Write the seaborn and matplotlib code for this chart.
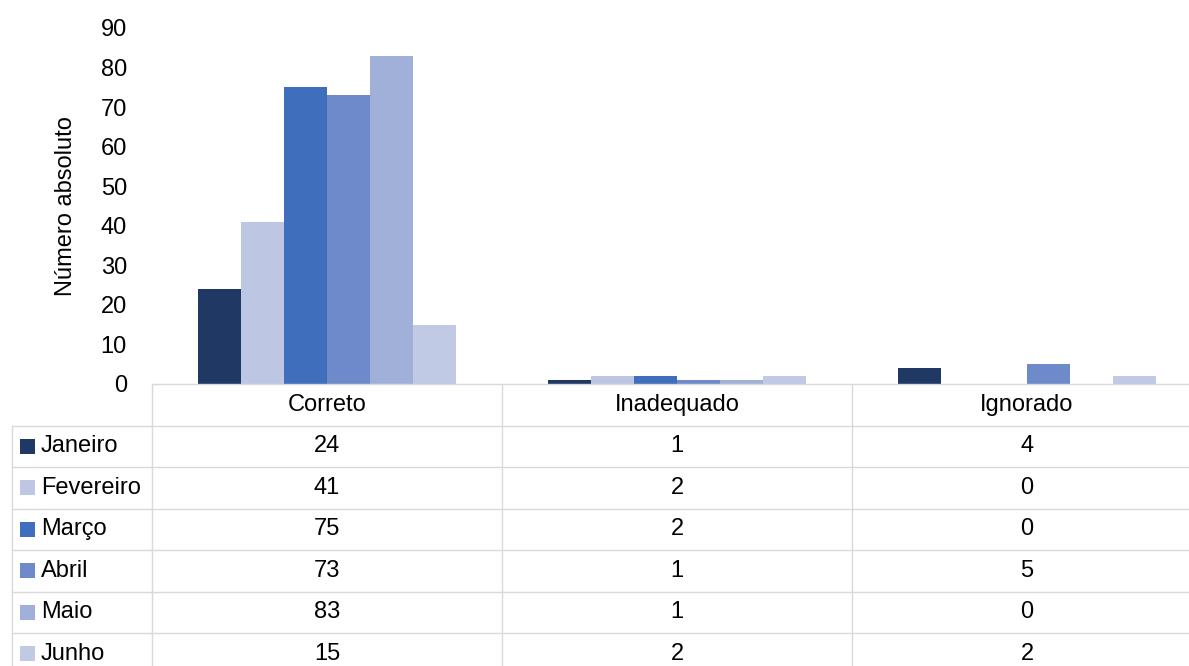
import matplotlib

matplotlib.use("Agg")

import matplotlib.pyplot as plt
import matplotlib.transforms as mtransforms
import pandas as pd
import seaborn as sns
from matplotlib.patches import Rectangle


CATEGORIES = ["Correto", "Inadequado", "Ignorado"]
MONTHS = ["Janeiro", "Fevereiro", "Março", "Abril", "Maio", "Junho"]
VALUES = {
    "Janeiro": [24, 1, 4],
    "Fevereiro": [41, 2, 0],
    "Março": [75, 2, 0],
    "Abril": [73, 1, 5],
    "Maio": [83, 1, 0],
    "Junho": [15, 2, 2],
}
COLORS = ["#203864", "#BDC7E3", "#3E6EBC", "#6E8ACB", "#A0B0D9", "#C0CAE4"]
Y_TICKS = list(range(0, 100, 10))

GRID = "#D9D9D9"
TEXT = "#000000"
FONT = "Liberation Sans"
FS = 17

rows = []
for month in MONTHS:
    for cat, val in zip(CATEGORIES, VALUES[month]):
        rows.append({"Categoria": cat, "Mês": month, "Valor": val})
df = pd.DataFrame(rows)

sns.set_theme(style="white")
plt.rcParams["font.family"] = [FONT, "DejaVu Sans"]

W, H = 1189, 666
fig = plt.figure(figsize=(W / 100, H / 100), dpi=100)
# axes from x=152 to x=1202 px, y from 28 to 384 px
ax = fig.add_axes([152 / W, (H - 384) / H, (1202 - 152) / W, (384 - 28) / H])

sns.barplot(
    data=df,
    x="Categoria",
    y="Valor",
    hue="Mês",
    order=CATEGORIES,
    hue_order=MONTHS,
    palette=COLORS,
    saturation=1,
    width=0.737,
    linewidth=0,
    legend=False,
    ax=ax,
)

ax.set_xlim(-0.5, len(CATEGORIES) - 0.5)
ax.set_ylim(0, 90)
ax.set_yticks(Y_TICKS)
ax.set_yticklabels([str(t) for t in Y_TICKS], fontsize=FS, color=TEXT)
ax.tick_params(axis="y", length=0, pad=18)
ax.set_xticks([])
ax.set_xlabel("")
ax.set_ylabel("Número absoluto", fontsize=FS, color=TEXT, labelpad=17)
for side in ["left", "right", "top"]:
    ax.spines[side].set_visible(False)
ax.spines["bottom"].set_color(GRID)
ax.spines["bottom"].set_linewidth(1)

# data table under the plot: x in data units, y in axes units
trans = mtransforms.blended_transform_factory(ax.transData, ax.transAxes)
px_x = 1 / 350
px_y = 1 / 356
row_h = 41.5 * px_y
left_edge = -0.5 - 140 * px_x
right_edge = len(CATEGORIES) - 0.5
n_rows = len(MONTHS) + 1

line_kw = dict(color=GRID, linewidth=1, transform=trans, clip_on=False)
for i in range(1, n_rows + 1):
    y = -i * row_h
    ax.plot([left_edge, right_edge], [y, y], **line_kw)
bottom = -n_rows * row_h
ax.plot([left_edge, left_edge], [-row_h, bottom], **line_kw)
for j in range(len(CATEGORIES) + 1):
    x = -0.5 + j
    ax.plot([x, x], [0, bottom], **line_kw)

for j, cat in enumerate(CATEGORIES):
    ax.text(j, -0.5 * row_h, cat, transform=trans, ha="center", va="center",
            fontsize=FS, color=TEXT, clip_on=False)

for i, month in enumerate(MONTHS):
    yc = -(i + 1.5) * row_h
    ax.add_patch(Rectangle((left_edge + 8 * px_x, yc - 7.5 * px_y), 15 * px_x, 15 * px_y,
                           facecolor=COLORS[i], edgecolor="none", transform=trans,
                           clip_on=False))
    ax.text(left_edge + 29 * px_x, yc, month, transform=trans, ha="left", va="center",
            fontsize=FS, color=TEXT, clip_on=False)
    for j, val in enumerate(VALUES[month]):
        ax.text(j, yc, str(val), transform=trans, ha="center", va="center",
                fontsize=FS, color=TEXT, clip_on=False)

fig.savefig("out.png", dpi=100)
plt.close(fig)
